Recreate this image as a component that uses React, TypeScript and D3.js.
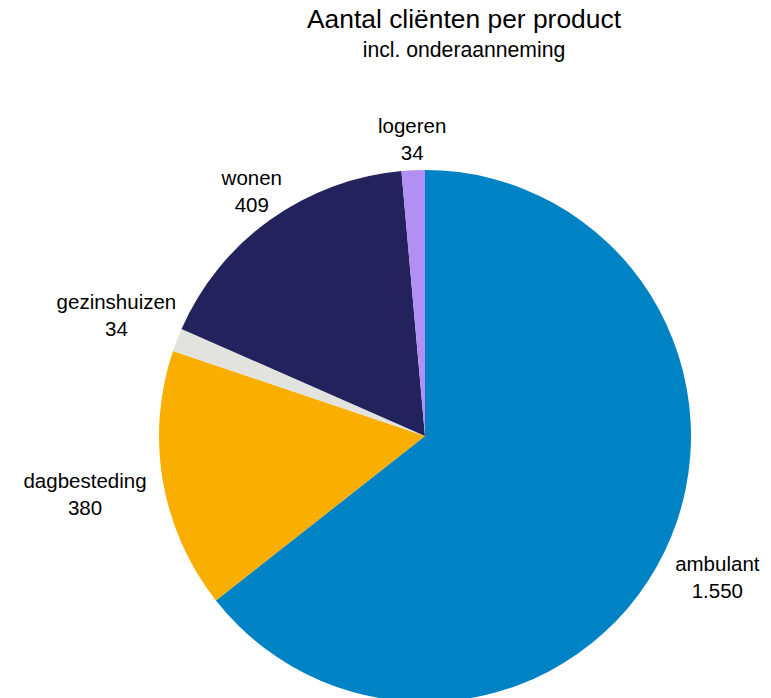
import React from "react";
import * as d3 from "d3";

// Client counts per product (incl. subcontracting)
const categories = ["ambulant", "dagbesteding", "gezinshuizen", "wonen", "logeren"];
const values = [1550, 380, 34, 409, 34];
const colors = ["#0083C4", "#F9AE00", "#E2E3DF", "#24225C", "#B18FF3"];

const titleText = "Aantal cliënten per product";
const subtitleText = "incl. onderaanneming";

// Layout
const WIDTH = 771;
const HEIGHT = 698;
const CX = 425;
const CY = 436;
const RADIUS = 266;
// distance from pie centre to each label block, per slice
const labelRadius = [325, 345, 331, 297, 290];
const LINE_GAP = 27;
const SIDE_DROP = 7; // side labels sit a little lower than the radial point
const FONT = "'Liberation Sans', Arial, Helvetica, sans-serif";

const nl = d3.formatLocale({
  decimal: ",",
  thousands: ".",
  grouping: [3],
  currency: ["€ ", ""],
});
const fmt = nl.format(",");

export default function App() {
  const pie = d3
    .pie<number>()
    .sort(null)
    .value((d) => d)
    .startAngle(0)
    .endAngle(2 * Math.PI);
  const arcs = pie(values);
  const arc = d3.arc<d3.PieArcDatum<number>>().innerRadius(0).outerRadius(RADIUS);

  return (
    <svg
      width={WIDTH}
      height={HEIGHT}
      style={{ position: "absolute", left: 0, top: 0, background: "#fff" }}
      fontFamily={FONT}
    >
      <text x={464} y={28} textAnchor="middle" fontSize={26.4} fill="#000">
        {titleText}
      </text>
      <text x={464} y={57} textAnchor="middle" fontSize={21.2} fill="#000">
        {subtitleText}
      </text>
      <g transform={`translate(${CX},${CY})`}>
        {arcs.map((a, i) => (
          <path key={categories[i]} d={arc(a) || ""} fill={colors[i]} />
        ))}
        {arcs.map((a, i) => {
          const mid = (a.startAngle + a.endAngle) / 2;
          const r = labelRadius[i];
          const x = Math.sin(mid) * r;
          const y = -Math.cos(mid) * r + SIDE_DROP * Math.abs(Math.sin(mid));
          return (
            <g key={"lbl-" + categories[i]} fontSize={20.5} fill="#000" textAnchor="middle">
              <text x={x} y={y - LINE_GAP / 2}>{categories[i]}</text>
              <text x={x} y={y + LINE_GAP / 2}>{fmt(values[i])}</text>
            </g>
          );
        })}
      </g>
    </svg>
  );
}
